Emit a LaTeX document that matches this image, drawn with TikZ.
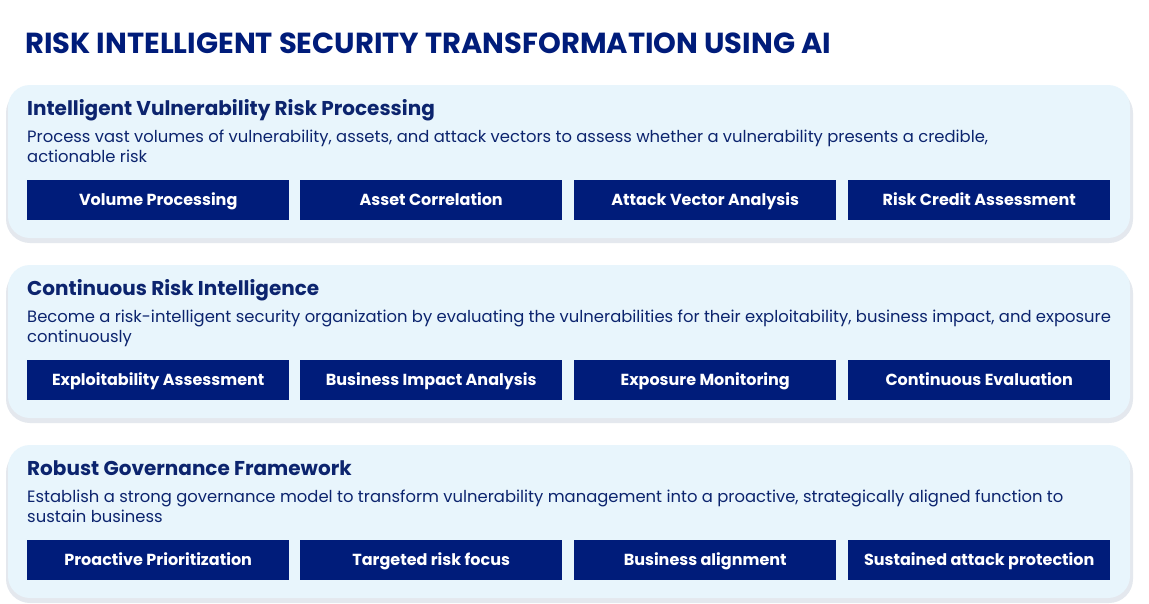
\documentclass[tikz,border=0pt]{standalone}
\usepackage{fontspec}
\setmainfont{Poppins}
\definecolor{navy}{RGB}{0,28,122}
\definecolor{headc}{RGB}{12,36,110}
\definecolor{panelc}{RGB}{232,245,252}
\definecolor{shad}{RGB}{228,232,238}
\tikzset{
 panel/.style={fill=panelc,rounded corners=22pt,draw=none},
 head/.style={anchor=base west,text=headc,font=\fontsize{20}{24}\selectfont\bfseries,inner sep=0},
 desc/.style={anchor=north west,text=headc,font=\fontsize{16.4}{20}\selectfont,align=left,inner sep=0},
 bx/.style={fill=navy,text=white,font=\fontsize{16}{18}\selectfont\bfseries,minimum width=262pt,minimum height=40pt,inner sep=0,anchor=north west,text height=11.5pt,text depth=0pt}
}
\begin{document}
\begin{tikzpicture}[x=1pt,y=-1pt]
\useasboundingbox[fill=white] (0,0) rectangle (1149,603);
\node[anchor=base west,inner sep=0,text=navy,font=\fontsize{29}{32}\selectfont\bfseries] (title) at (25,53) {RISK INTELLIGENT SECURITY TRANSFORMATION USING AI};
\foreach \y/\h/\da/\db/\ba/\bb/\bc/\bd [count=\i] in {
85/Intelligent Vulnerability Risk Processing/{Process vast volumes of vulnerability, assets, and attack vectors to assess whether a vulnerability presents a credible,}/{actionable risk}/Volume Processing/Asset Correlation/Attack Vector Analysis/Risk Credit Assessment,
265/Continuous Risk Intelligence/{Become a risk-intelligent security organization by evaluating the vulnerabilities for their exploitability, business impact, and exposure}/continuously/Exploitability Assessment/Business Impact Analysis/Exposure Monitoring/Continuous Evaluation,
445/Robust Governance Framework/{Establish a strong governance model to transform vulnerability management into a proactive, strategically aligned function to}/{sustain business}/Proactive Prioritization/Targeted risk focus/Business alignment/Sustained attack protection}{
 \fill[shad,rounded corners=24pt] (6,\y+4) rectangle (1133,\y+158);
 \fill[panel] (8,\y) rectangle (1130,\y+153);
 \node[head] (h\i) at (27,\y+30) {\h};
 \node[desc] (d\i) at (27,\y+45) {\da\\\db};
 \node[bx] (a\i) at (27,\y+95) {\ba};
 \node[bx] (b\i) at (300,\y+95) {\bb};
 \node[bx] (c\i) at (574,\y+95) {\bc};
 \node[bx] (e\i) at (848,\y+95) {\bd};
}
\end{tikzpicture}
\end{document}
